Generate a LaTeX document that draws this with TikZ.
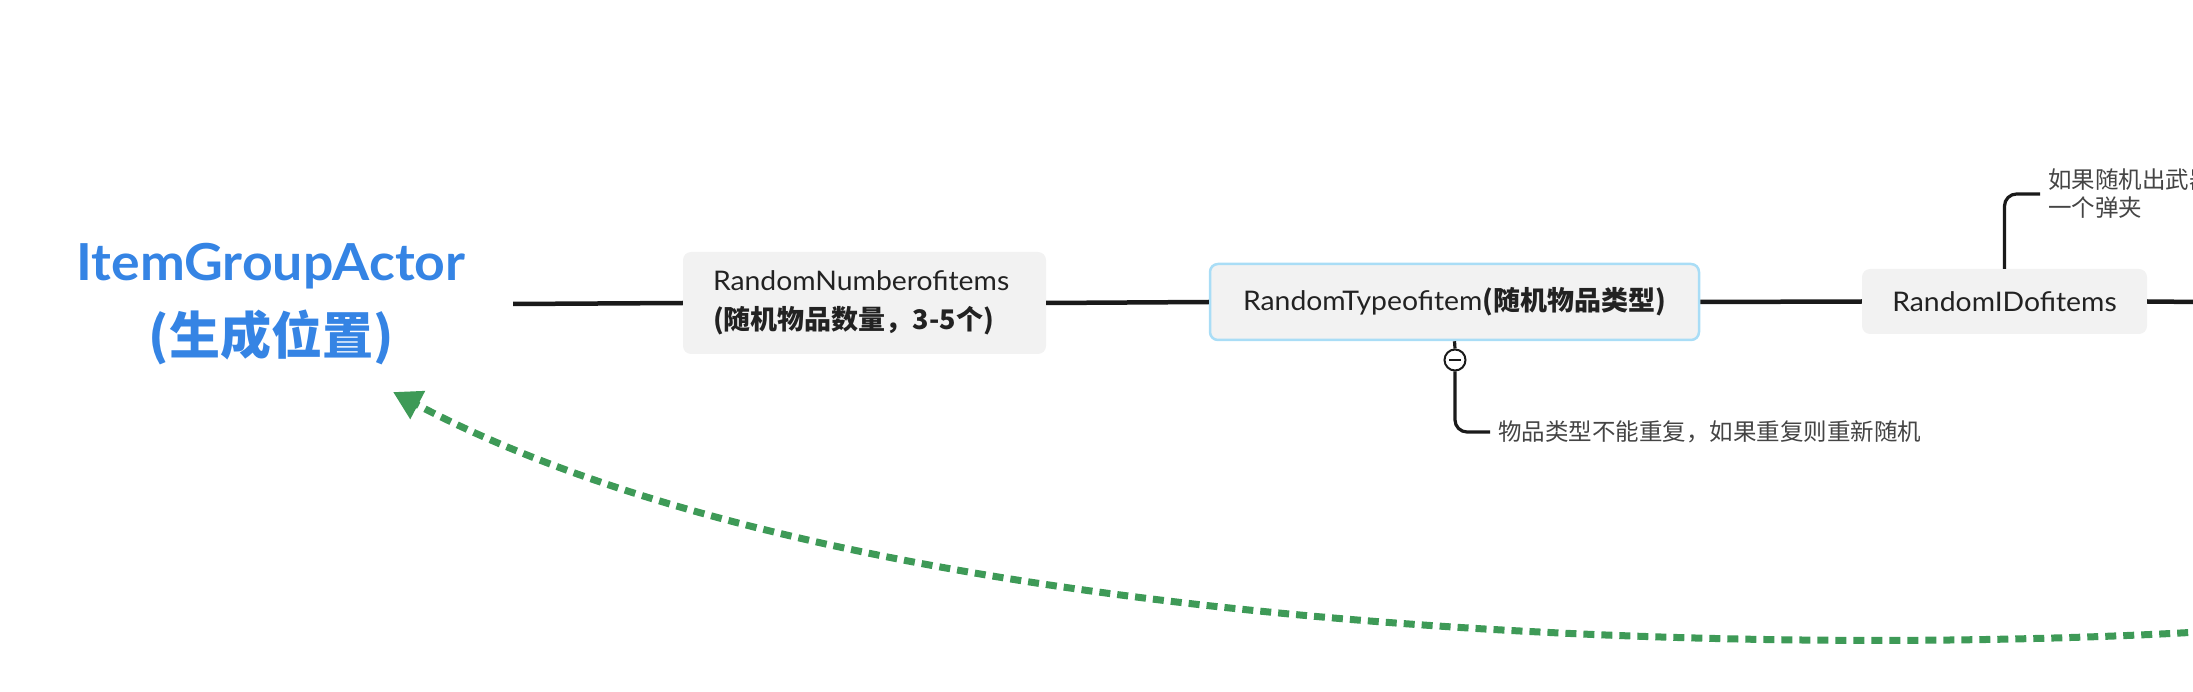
\documentclass[tikz,border=0pt]{standalone}
\usepackage{fontspec}
\setmainfont{Lato}[FakeStretch=1.05]
\newfontfamily\cjk{Noto Sans CJK SC}
\usetikzlibrary{arrows.meta}
\definecolor{actorblue}{HTML}{3584E4}
\definecolor{boxgray}{HTML}{F2F2F2}
\definecolor{selblue}{HTML}{A9DDF6}
\definecolor{linedark}{HTML}{1A1A1A}
\definecolor{textdark}{HTML}{222222}
\definecolor{notegray}{HTML}{444444}
\definecolor{flowgreen}{HTML}{3E9A57}
\begin{document}
\begin{tikzpicture}[x=1pt,y=-1pt,
  actor/.style={inner sep=0pt, align=center, text=actorblue,
    font=\fontsize{51}{74}\selectfont\bfseries, minimum width=484pt},
  topic/.style={fill=boxgray, rounded corners=8pt, inner ysep=0pt, text=textdark,
    font=\fontsize{27}{39}\selectfont},
  selected/.style={topic, draw=selblue, line width=2.5pt},
  notetext/.style={inner xsep=8pt, inner ysep=2pt, anchor=west, text=notegray, align=left,
    font=\cjk\fontsize{23.5}{28}\selectfont},
  mainline/.style={draw=linedark, line width=4.5pt},
  branch/.style={draw=linedark, line width=3.2pt, rounded corners=12pt},
  collapse/.style={circle, draw=linedark, line width=2pt, fill=white, minimum size=21pt, inner sep=0pt},
  flow/.style={draw=flowgreen, line width=7pt, dash pattern=on 11pt off 7pt,
    -{Triangle[length=28pt,width=30pt]}}
]
\useasboundingbox (0,0) rectangle (2193,692);
\clip (0,0) rectangle (2193,692);

\node[actor] (actor) at (271,304) {ItemGroupActor\\{\cjk (生成位置)}};

\node[topic, text width=303pt, inner xsep=30pt, minimum height=102pt, align=left]
  (num) at (864.5,303) {RandomNumberofitems\\{\cjk\bfseries (随机物品数量，3-5个)}};

\node[selected, minimum width=489pt, minimum height=76pt, inner xsep=0pt]
  (type) at (1454.5,302) {RandomTypeofitem{\cjk\bfseries (随机物品类型)}};

\node[topic, minimum width=285pt, minimum height=65pt, inner xsep=0pt]
  (id) at (2004.5,301.5) {RandomIDofitems};

\coordinate (rightend) at (2200,302);

\node[collapse] (fold) at (1455,360) {};
\draw[draw=linedark, line width=2pt] ([xshift=-6pt]fold.center) -- ([xshift=6pt]fold.center);

\node[notetext] (note1) at (1490,432) {物品类型不能重复，如果重复则重新随机};
\node[notetext] (note2) at (2040,194) {如果随机出武器\\一个弹夹};

\draw[mainline] (actor.east) -- (num.west);
\draw[mainline] (num.east) -- (type.west);
\draw[mainline] (type.east) -- (id.west);
\draw[mainline] (id.east) -- (rightend);

\draw[branch] (type.south) -- (fold.north);
\draw[branch] (fold.south) |- (note1.west);
\draw[branch] (id.north) |- (note2.west);

\coordinate (loopsrc) at (2260,628);
\coordinate (looptip) at (393,392);
\draw[flow] (loopsrc) .. controls (1900,655) and (900,660) .. (looptip);
\end{tikzpicture}
\end{document}
